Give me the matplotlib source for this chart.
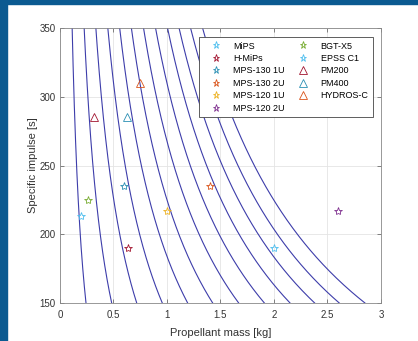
import numpy as np
import matplotlib
matplotlib.use("Agg")
import matplotlib.pyplot as plt
import matplotlib.patches as patches

plt.rcParams['font.family'] = ['Liberation Sans', 'DejaVu Sans']

# iso-lines: propellant mass where each curve crosses Isp = 150 s
curve_mass_150 = [0.243, 0.483, 0.717, 0.956, 1.193, 1.427, 1.67, 1.91, 2.15, 2.38, 2.61, 2.85]
isp_offset = 25.6  # shape of the curves

# thrusters
names = ['MiPS', 'H-MiPs', 'MPS-130 1U', 'MPS-130 2U', 'MPS-120 1U', 'MPS-120 2U',
         'BGT-X5', 'EPSS C1', 'PM200', 'PM400', 'HYDROS-C']
prop_mass = [0.20, 0.64, 0.60, 1.40, 1.00, 2.60, 0.26, 2.00, 0.32, 0.63, 0.75]
isp = [213, 190, 235, 235, 217, 217, 225, 190, 285, 285, 310]
markers = ['*', '*', '*', '*', '*', '*', '*', '*', '^', '^', '^']
colors = ['#4DBEEE', '#A2142F', '#2A8FB3', '#D95319', '#EDB120', '#7E2F8E',
          '#77AC30', '#4DBEEE', '#A2142F', '#2A8FB3', '#D95319']

fig = plt.figure(figsize=(4.18, 3.41), dpi=100)
# dark blue slide frame
fig.patches.append(patches.Rectangle((0, 0), 7 / 418, 1, transform=fig.transFigure,
                                     color='#0b5a91', zorder=0))
fig.patches.append(patches.Rectangle((0, 1 - 4 / 341), 1, 4 / 341, transform=fig.transFigure,
                                     color='#0b5a91', zorder=0))

ax = fig.add_axes([60 / 418, 38 / 341, 321 / 418, 275 / 341])

isp_grid = np.linspace(150, 350, 200)
for m0 in curve_mass_150:
    m = m0 * (150 + isp_offset) / (isp_grid + isp_offset)
    ax.plot(m, isp_grid, color='#3d3daa', linewidth=0.8, zorder=2)

for n, x, y, mk, c in zip(names, prop_mass, isp, markers, colors):
    ax.plot(x, y, linestyle='none', marker=mk, markersize=6, markerfacecolor='none',
            markeredgecolor=c, markeredgewidth=0.6, label=n, zorder=3)

ax.set_xlim(0, 3)
ax.set_ylim(150, 350)
ax.set_xticks([0, 0.5, 1, 1.5, 2, 2.5, 3])
ax.set_xticklabels(['0', '0.5', '1', '1.5', '2', '2.5', '3'])
ax.set_yticks([150, 200, 250, 300, 350])
ax.grid(True, color='#e4e4e4', linewidth=0.6, zorder=0)
ax.set_axisbelow(True)
ax.tick_params(direction='in', top=True, right=True, length=3, width=0.5,
               labelsize=7, colors='#555555', labelcolor='#333333', pad=3)
ax.tick_params(axis='x', pad=5)
for s in ax.spines.values():
    s.set_color('#888888')
    s.set_linewidth(0.6)

ax.set_xlabel('Propellant mass [kg]', fontsize=8, color='#333333', labelpad=6)
ax.set_ylabel('Specific impulse [s]', fontsize=8, color='#333333', labelpad=1)

leg = ax.legend(ncol=2, loc='upper right', bbox_to_anchor=(0.975, 0.967), borderaxespad=0,
                fontsize=6.5, frameon=True, fancybox=False, framealpha=1,
                edgecolor='#444444', handlelength=2.8, handletextpad=0.5,
                columnspacing=0.7, labelspacing=0.38, borderpad=0.5, markerscale=0.85)
leg.get_frame().set_linewidth(0.6)
leg.set_zorder(5)

fig.savefig('out.png', dpi=100)
